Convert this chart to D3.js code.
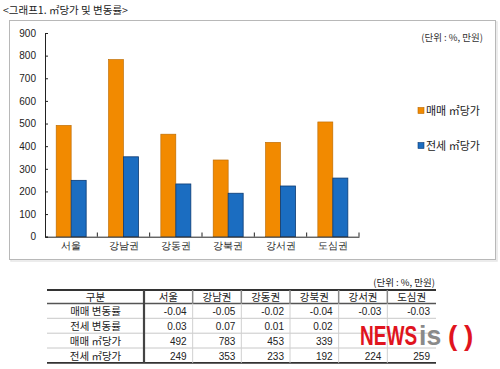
<!DOCTYPE html>
<html><head><meta charset="utf-8">
<script src="https://cdn.jsdelivr.net/npm/d3@7"></script>
<style>
body{margin:0;background:#fff;}
svg{display:block;font-family:"Noto Sans CJK KR","Noto Sans",sans-serif;}
</style></head><body>
<svg id="c" width="500" height="369"></svg>
<script>
const categories = ["서울","강남권","강동권","강북권","강서권","도심권"];
const saleRate = ["-0.04","-0.05","-0.02","-0.04","-0.03","-0.03"];
const jeonseRate = ["0.03","0.07","0.01","0.02",null,null];
const salePrice = [492,783,453,339,417,507];
const jeonsePrice = [249,353,233,192,224,259];
const yTicks = [0,100,200,300,400,500,600,700,800,900];
const seriesNames = ["매매 ㎡당가","전세 ㎡당가"];
const rowLabels = ["매매 변동률","전세 변동률","매매 ㎡당가","전세 ㎡당가"];
// table cells covered by the watermark in the source image: [row, col]
const maskedCells = [[1,4],[1,5],[2,4],[2,5]];
const colors = {sale:"#f28a00", saleStroke:"#b86800", jeonse:"#1b6dc1", jeonseStroke:"#0c3a72"};

const svg = d3.select("#c");

svg.append("text").attr("x",3).attr("y",14).attr("font-size",10.5).attr("fill","#222")
  .text("<그래프1. ㎡당가 및 변동률>");

svg.append("rect").attr("x",11).attr("y",22).attr("width",486).attr("height",239)
  .attr("fill","none").attr("stroke","#e6e6e6").attr("stroke-width",1.5);
svg.append("rect").attr("x",9.5).attr("y",20.5).attr("width",486).attr("height",239)
  .attr("fill","#fff").attr("stroke","#b8b8b8").attr("stroke-width",1);

const x = d3.scaleBand().domain(categories).range([45,359]);
const y = d3.scaleLinear().domain([0,900]).range([236.7,33]);
const bw = 15;

const g = svg.append("g");
g.selectAll(".s").data(categories).join("rect")
  .attr("x",d=>x(d)+x.bandwidth()/2-bw).attr("width",bw)
  .attr("y",(d,i)=>y(salePrice[i])).attr("height",(d,i)=>y(0)-y(salePrice[i]))
  .attr("fill",colors.sale).attr("stroke",colors.saleStroke).attr("stroke-width",0.6);
g.selectAll(".j").data(categories).join("rect")
  .attr("x",d=>x(d)+x.bandwidth()/2).attr("width",bw)
  .attr("y",(d,i)=>y(jeonsePrice[i])).attr("height",(d,i)=>y(0)-y(jeonsePrice[i]))
  .attr("fill",colors.jeonse).attr("stroke",colors.jeonseStroke).attr("stroke-width",0.8);

const ya = svg.append("g").attr("transform","translate(45,0)")
  .call(d3.axisLeft(y).tickValues(yTicks).tickSize(-3).tickPadding(9));
ya.select(".domain").attr("stroke","#222");
ya.selectAll(".tick line").attr("stroke","#222");
ya.selectAll("text").attr("font-size",10).attr("fill","#222").attr("font-family","Liberation Sans, Arial, sans-serif");

const xa = svg.append("g").attr("transform","translate(0,236.7)")
  .call(d3.axisBottom(x).tickSize(0).tickPadding(5));
xa.select(".domain").attr("stroke","#222");
xa.selectAll("text").attr("font-size",10).attr("fill","#222");
svg.append("g").selectAll("line").data(categories).join("line")
  .attr("x1",d=>x(d)+x.step()).attr("x2",d=>x(d)+x.step())
  .attr("y1",236.7).attr("y2",232.5).attr("stroke","#222");

svg.append("text").attr("x",483).attr("y",41).attr("text-anchor","end").attr("font-size",9.5).attr("fill","#333")
  .text("(단위 : %, 만원)");

const lg = svg.append("g");
[[colors.sale,colors.saleStroke,111],[colors.jeonse,colors.jeonseStroke,146]].forEach((c,i)=>{
  lg.append("rect").attr("x",418).attr("y",c[2]-3.5).attr("width",6).attr("height",6)
    .attr("fill",c[0]).attr("stroke",c[1]).attr("stroke-width",0.6);
  lg.append("text").attr("x",426).attr("y",c[2]+4).attr("font-size",11).attr("fill","#222").text(seriesNames[i]);
});

svg.append("text").attr("x",435).attr("y",286).attr("text-anchor","end").attr("font-size",9.5).attr("fill","#222")
  .text("(단위 : %, 만원)");
const tLeft = 47, tRight = 436, firstW = 97;
const colX = d3.scaleBand().domain(categories).range([tLeft+firstW, tRight]);
const rowY = [290,303.5,318.3,333.2,348,362.8];
const tb = svg.append("g");
const rows = [saleRate, jeonseRate, salePrice, jeonsePrice];
rowY.forEach((yy,i)=>{
  const dark = (i===0||i===rowY.length-1);
  tb.append("line").attr("x1",tLeft).attr("x2",tRight).attr("y1",yy).attr("y2",yy)
    .attr("stroke",dark?"#333":(i===1?"#555":"#c8c8c8")).attr("stroke-width",dark?1.8:(i===1?1.5:1));
});
tb.append("line").attr("x1",tLeft+firstW).attr("x2",tLeft+firstW).attr("y1",rowY[0]).attr("y2",rowY[5])
  .attr("stroke","#444").attr("stroke-width",2.2);
categories.slice(1).forEach(c=>{
  tb.append("line").attr("x1",colX(c)).attr("x2",colX(c)).attr("y1",rowY[0]).attr("y2",rowY[1])
    .attr("stroke","#888").attr("stroke-width",1.5);
  tb.append("line").attr("x1",colX(c)).attr("x2",colX(c)).attr("y1",rowY[1]).attr("y2",rowY[5])
    .attr("stroke","#d0d0d0").attr("stroke-width",1);
});
tb.append("text").attr("x",tLeft+firstW/2).attr("y",301).attr("text-anchor","middle").attr("font-size",10.5).attr("fill","#222").text("구분");
categories.forEach(c=>{
  tb.append("text").attr("x",colX(c)+colX.bandwidth()/2).attr("y",301).attr("text-anchor","middle")
    .attr("font-size",10.5).attr("fill","#222").text(c);
});
const isMasked = (r,c)=>maskedCells.some(m=>m[0]===r&&m[1]===c);
rows.forEach((r,ri)=>{
  const yy = rowY[ri+1]+11.5;
  tb.append("text").attr("x",tLeft+firstW/2).attr("y",yy).attr("text-anchor","middle").attr("font-size",10.5).attr("fill","#222").text(rowLabels[ri]);
  categories.forEach((c,ci)=>{
    if (r[ci]===null || isMasked(ri,ci)) return;
    tb.append("text").attr("x",colX(c)+colX.bandwidth()-6).attr("y",yy).attr("text-anchor","end")
      .attr("font-size",10).attr("fill","#222").attr("font-family","Liberation Sans, Arial, sans-serif").text(r[ci]);
  });
});

// watermark
const wm = svg.append("g").attr("font-family","Liberation Sans, sans-serif").attr("font-weight","bold").attr("font-size",28);
wm.append("text").attr("transform","translate(360,345) scale(0.68,1)").attr("fill","#e0141e").text("NEWS");
wm.append("text").attr("transform","translate(419,345) scale(0.95,1)").attr("fill","#8a8a8a").text("is");
wm.append("text").attr("transform","translate(448,345)").attr("fill","#e0141e").text("(");
wm.append("text").attr("transform","translate(464,345)").attr("fill","#e0141e").text(")");
</script>
</body></html>
